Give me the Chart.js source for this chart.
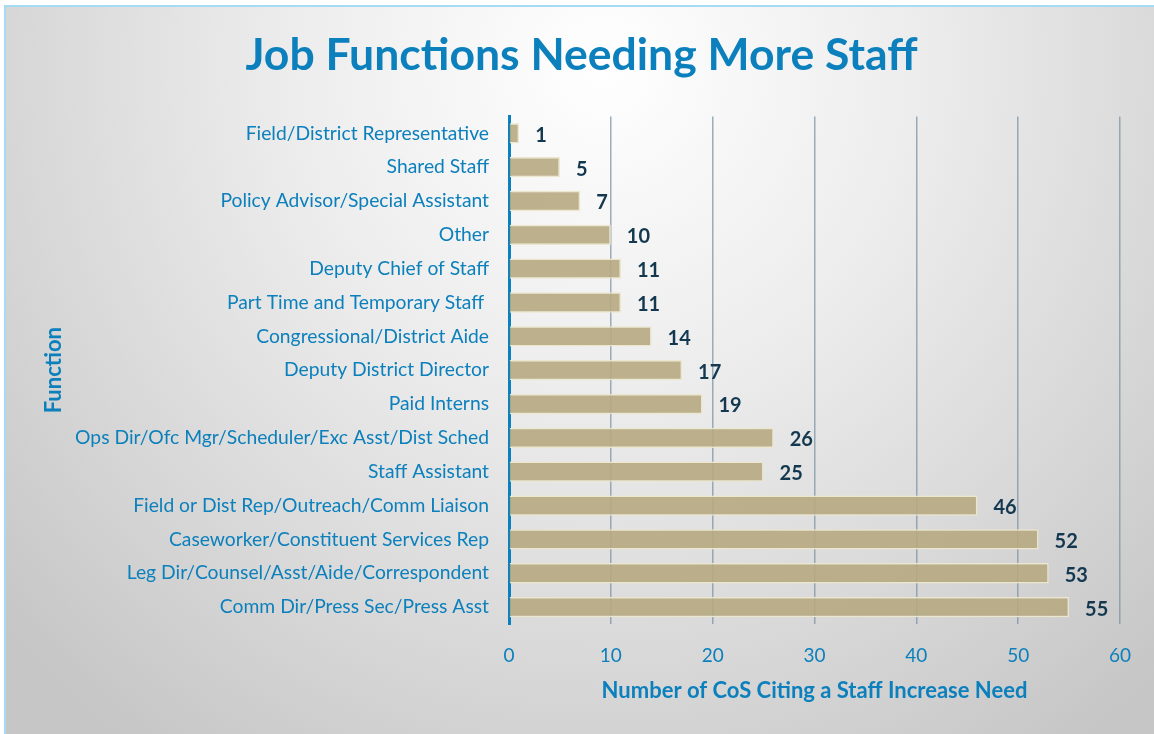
<!DOCTYPE html>
<html>
<head>
<meta charset="utf-8">
<script src="https://cdn.jsdelivr.net/npm/chart.js@4.4.1/dist/chart.umd.min.js"></script>
<style>
  html, body { margin: 0; padding: 0; background: #ffffff; }
  body { width: 1154px; height: 734px; position: relative; overflow: hidden; }
  #frame {
    position: absolute; left: 4px; top: 5px; width: 1150px; height: 729px;
    box-sizing: border-box;
    border-top: 2px solid #a6dcf3; border-left: 2px solid #a6dcf3;
    background: radial-gradient(ellipse 70% 115% at 52% 8%, #ffffff 0%, #ececec 40%, #d6d6d6 75%, #c6c6c6 100%);
  }
  #wrap { position: absolute; left: 0; top: 0; width: 1154px; height: 734px; }
</style>
</head>
<body>
<div id="frame"></div>
<div id="wrap"><canvas id="c" width="1154" height="734"></canvas></div>
<script>
const categories = [
  "Field/District Representative",
  "Shared Staff",
  "Policy Advisor/Special Assistant",
  "Other",
  "Deputy Chief of Staff",
  "Part Time and Temporary Staff ",
  "Congressional/District Aide",
  "Deputy District Director",
  "Paid Interns",
  "Ops Dir/Ofc Mgr/Scheduler/Exc Asst/Dist Sched",
  "Staff Assistant",
  "Field or Dist Rep/Outreach/Comm Liaison",
  "Caseworker/Constituent Services Rep",
  "Leg Dir/Counsel/Asst/Aide/Correspondent",
  "Comm Dir/Press Sec/Press Asst"
];
const staffIncreaseCounts = [1, 5, 7, 10, 11, 11, 14, 17, 19, 26, 25, 46, 52, 53, 55];
const xTickValues = [0, 10, 20, 30, 40, 50, 60];

const BLUE = "#0c80bc";
const FONT = "Lato, 'Open Sans', sans-serif";

const valueLabels = {
  id: "valueLabels",
  afterDatasetsDraw(chart) {
    const ctx = chart.ctx;
    const meta = chart.getDatasetMeta(0);
    ctx.save();
    ctx.font = "bold 20px " + FONT;
    ctx.fillStyle = "#143850";
    ctx.textAlign = "left";
    ctx.textBaseline = "middle";
    meta.data.forEach((bar, i) => {
      ctx.fillText(String(staffIncreaseCounts[i]), bar.x + 16, bar.y + 2);
    });
    ctx.restore();
  }
};

new Chart(document.getElementById("c"), {
  type: "bar",
  data: {
    labels: categories,
    datasets: [{
      data: staffIncreaseCounts,
      backgroundColor: "rgba(183,169,129,0.9)",
      borderColor: "#ece6cd",
      borderWidth: 1.5,
      barPercentage: 0.6,
      categoryPercentage: 1.0
    }]
  },
  options: {
    indexAxis: "y",
    responsive: false,
    animation: false,
    layout: { padding: { left: 43, right: 34, top: 0, bottom: 0 } },
    plugins: {
      legend: { display: false },
      tooltip: { enabled: false },
      title: {
        display: true,
        text: "Job Functions Needing More Staff",
        color: BLUE,
        font: { family: FONT, size: 44.5, weight: "bold", lineHeight: 1.2 },
        padding: { top: 29, bottom: 34 }
      }
    },
    scales: {
      x: {
        min: 0, max: 60,
        afterBuildTicks(scale) { scale.ticks = xTickValues.map(v => ({ value: v })); },
        afterFit(scale) { scale.height = 110; },
        grid: { display: true, drawTicks: false, color: "rgba(125,148,165,0.75)", lineWidth: 1.5 },
        border: { display: false },
        ticks: { color: BLUE, padding: 20, font: { family: FONT, size: 19 } },
        title: {
          display: true,
          text: "Number of CoS Citing a Staff Increase Need",
          color: BLUE,
          font: { family: FONT, size: 22, weight: "bold", lineHeight: 1.2 },
          padding: { top: 0, bottom: 30 }
        }
      },
      y: {
        afterFit(scale) { scale.width = 466; },
        grid: { display: false, drawTicks: false },
        border: { display: true, color: BLUE, width: 3 },
        ticks: { color: BLUE, padding: 20, font: { family: FONT, size: 19.3 } },
        title: {
          display: true,
          text: "Function",
          color: BLUE,
          font: { family: FONT, size: 22, weight: "bold", lineHeight: 1.0 },
          padding: { top: 0, bottom: 0 }
        }
      }
    }
  },
  plugins: [valueLabels]
});
</script>
</body>
</html>
